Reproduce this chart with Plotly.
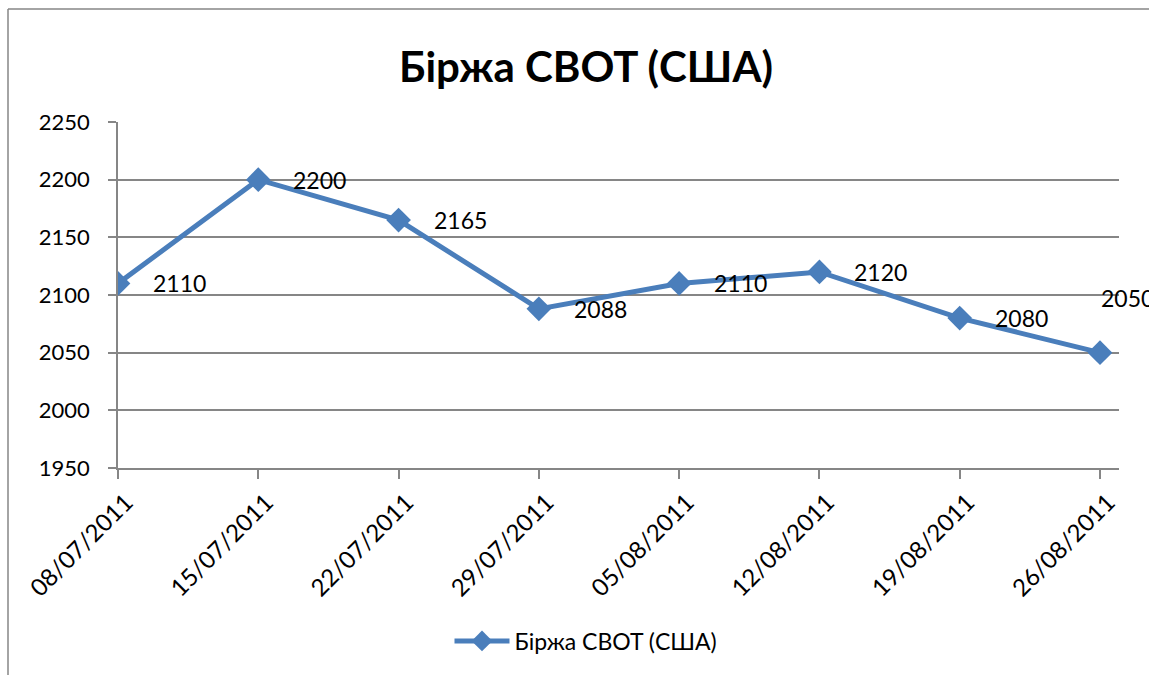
import plotly.graph_objects as go

dates = ["08/07/2011", "15/07/2011", "22/07/2011", "29/07/2011",
         "05/08/2011", "12/08/2011", "19/08/2011", "26/08/2011"]
values = [2110, 2200, 2165, 2088, 2110, 2120, 2080, 2050]
series_name = "Біржа CBOT (США)"
title_text = "Біржа CBOT (США)"
y_ticks = [1950, 2000, 2050, 2100, 2150, 2200, 2250]

BLUE = "#4A7EBB"
GRID = "#868686"
FONT = "Lato"

x_idx = list(range(len(dates)))

W, H = 1149, 675
L, R, T, B = 118, 1119, 122, 468
pw, ph = R - L, B - T

fig = go.Figure()
fig.add_trace(go.Scatter(
    x=x_idx, y=values, mode="lines+markers", name=series_name,
    line=dict(color=BLUE, width=5),
    marker=dict(symbol="diamond", size=19, color=BLUE),
    hoverinfo="skip",
))

annotations = []
for i, v in enumerate(values):
    last = i == len(values) - 1
    annotations.append(dict(
        x=i, y=v, xref="x", yref="y", text=str(v), showarrow=False,
        xanchor="left", yanchor="middle",
        xshift=-1 if last else 33, yshift=55 if last else 0,
        font=dict(family=FONT, size=23, color="black"),
    ))

bx0 = (8 - L) / pw
bx1 = (W - L) / pw
by_top = (B - 9) / ph
by_bot = (B - H) / ph
border = [
    dict(type="line", xref="paper", yref="paper", x0=bx0, x1=bx1,
         y0=by_top, y1=by_top, line=dict(color=GRID, width=1.5), layer="below"),
    dict(type="line", xref="paper", yref="paper", x0=bx0, x1=bx0,
         y0=by_top, y1=by_bot, line=dict(color=GRID, width=1.5), layer="below"),
]

fig.update_layout(
    width=W, height=H,
    margin=dict(l=L, r=W - R, t=T, b=H - B),
    paper_bgcolor="white", plot_bgcolor="white",
    title=dict(text="<b>" + title_text + "</b>", x=(586 - L) / pw, xref="paper",
               xanchor="center", y=1 - 67 / H, yanchor="middle",
               font=dict(family=FONT, size=42, color="black")),
    font=dict(family=FONT, size=22, color="black"),
    showlegend=True,
    legend=dict(orientation="h", x=(586 - L) / pw, xanchor="center",
                y=(B - 641) / ph, yanchor="middle",
                font=dict(family=FONT, size=23, color="black"),
                itemwidth=55),
    annotations=annotations,
    shapes=border,
)

fig.update_xaxes(
    range=[0, 7 + (R - 1100) / ((1100 - L) / 7)],
    tickmode="array", tickvals=x_idx, ticktext=dates, tickangle=-45,
    showgrid=False, showline=True, linecolor=GRID, linewidth=1.5,
    ticks="outside", ticklen=9, tickcolor=GRID, tickwidth=1.5,
    tickfont=dict(family=FONT, size=24, color="black"),
    ticklabelshift=8,
    zeroline=False,
)
fig.update_yaxes(
    range=[1950, 2250], tickmode="array", tickvals=y_ticks,
    showgrid=True, gridcolor=GRID, gridwidth=1.5,
    showline=True, linecolor=GRID, linewidth=1.5,
    ticks="outside", ticklen=8, tickcolor=GRID, tickwidth=1.5,
    tickfont=dict(family=FONT, size=22, color="black"),
    ticklabelstandoff=14, zeroline=False,
)

fig.write_html(
    "out.html",
    config={"displayModeBar": False},
    post_script="document.body.style.margin='0';document.body.style.overflow='hidden';",
)
